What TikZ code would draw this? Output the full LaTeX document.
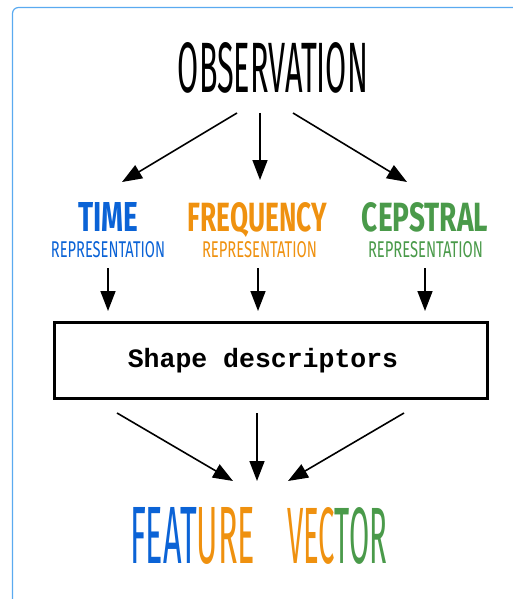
\documentclass[tikz,border=0pt]{standalone}
\usepackage{fontspec}
\usetikzlibrary{arrows.meta}
\newfontfamily\handfont{Fira Sans}
\newfontfamily\codefont{Liberation Mono}
\definecolor{tblue}{HTML}{0B63D6}
\definecolor{forange}{HTML}{EF910F}
\definecolor{cgreen}{HTML}{4A9A4A}
\definecolor{framecol}{HTML}{5AAAF0}
\tikzset{
  arr/.style={-{Triangle[length=20pt,width=15pt]}, line width=1.6pt},
  word/.style={inner sep=0pt, anchor=base},
}
\begin{document}
\begin{tikzpicture}[x=1pt,y=-1pt]
\useasboundingbox (0,0) rectangle (512,599);
\draw[framecol, line width=1.2pt, rounded corners=6pt] (12.5,7.5) rectangle (540,620);
\node[word] (obs) at (273,93){\resizebox{190pt}{50pt}{\handfont OBSERVATION}};
\node[word, tblue] (time) at (108,231){\resizebox{60pt}{29pt}{\handfont\bfseries TIME}};
\node[word, tblue] (timerep) at (108,257){\resizebox{114pt}{16pt}{\handfont REPRESENTATION}};
\node[word, forange] (freq) at (257.5,231){\resizebox{139pt}{29pt}{\handfont\bfseries FREQUENCY}};
\node[word, forange] (freqrep) at (259.5,257){\resizebox{115pt}{16pt}{\handfont REPRESENTATION}};
\node[word, cgreen] (ceps) at (425,231){\resizebox{126pt}{29pt}{\handfont\bfseries CEPSTRAL}};
\node[word, cgreen] (cepsrep) at (425.5,257){\resizebox{115pt}{16pt}{\handfont REPRESENTATION}};
\node[draw, line width=3pt, minimum width=433pt, minimum height=76pt, inner sep=0pt] (desc) at (271,360.5){};
\node[inner sep=0pt] (desctext) at (263,361){\codefont\bfseries\fontsize{26.5}{30}\selectfont Shape descriptors};
\node[word] (feat) at (192.5,563){\resizebox{125pt}{56pt}{\handfont\textcolor{tblue}{FEAT}\textcolor{forange}{URE}}};
\node[word] (vec) at (337,563){\resizebox{100pt}{56pt}{\handfont\textcolor{forange}{VEC}\textcolor{cgreen}{TOR}}};
\coordinate (o1) at (237,113);
\coordinate (o2) at (260,113);
\coordinate (o3) at (293,113);
\coordinate (t1) at (122,182);
\coordinate (f1) at (260,180);
\coordinate (c1) at (407,182);
\coordinate (t2) at (108,268);
\coordinate (f2) at (258,268);
\coordinate (c2) at (425,268);
\coordinate (t3) at (108,311);
\coordinate (f3) at (258,311);
\coordinate (c3) at (425,311);
\coordinate (d1) at (117,413);
\coordinate (d2) at (257,413);
\coordinate (d3) at (404,413);
\coordinate (v1) at (233,481);
\coordinate (v2) at (257,481);
\coordinate (v3) at (288,481);
\draw[arr] (o1) -- (t1);
\draw[arr] (o2) -- (f1);
\draw[arr] (o3) -- (c1);
\draw[arr] (t2) -- (t3);
\draw[arr] (f2) -- (f3);
\draw[arr] (c2) -- (c3);
\draw[arr] (d1) -- (v1);
\draw[arr] (d2) -- (v2);
\draw[arr] (d3) -- (v3);
\end{tikzpicture}
\end{document}
